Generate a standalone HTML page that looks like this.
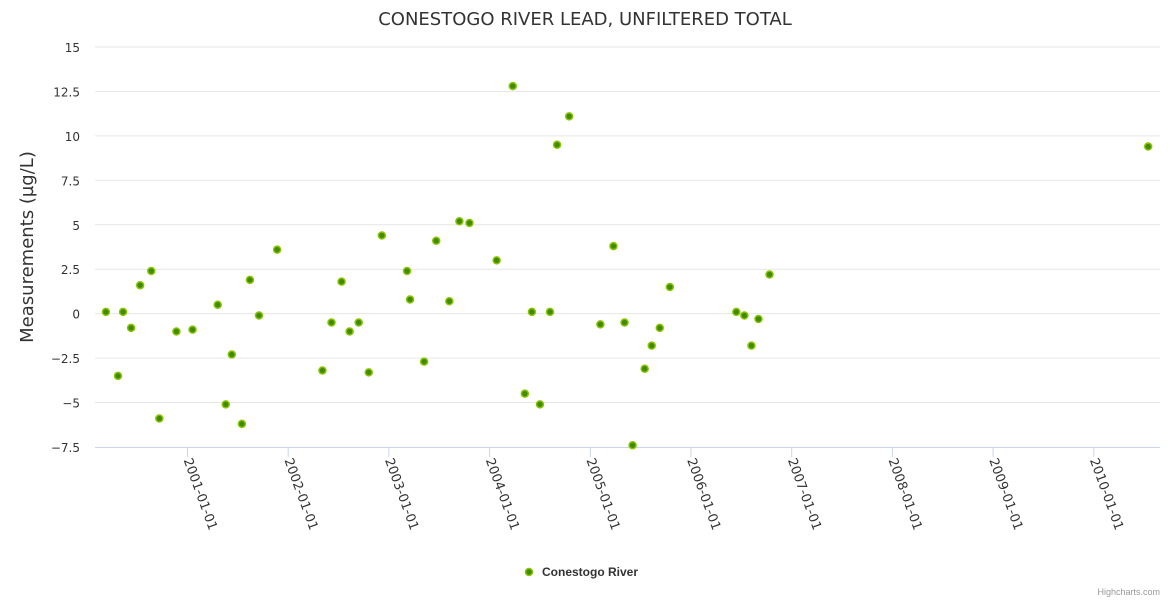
<!DOCTYPE html>
<html><head><meta charset="utf-8"><style>
body{margin:0;background:#fff;font-family:"Liberation Sans","DejaVu Sans",sans-serif}
svg{display:block}
</style></head><body>
<svg id="chart" width="1170" height="600" xmlns="http://www.w3.org/2000/svg">
<text x="585" y="25" text-anchor="middle" font-size="18" fill="#333" font-family="DejaVu Sans, sans-serif">CONESTOGO RIVER LEAD, UNFILTERED TOTAL</text>
<text transform="translate(33,247) rotate(-90)" text-anchor="middle" font-size="18" fill="#333" font-family="DejaVu Sans, sans-serif">Measurements (µg/L)</text>
<g id="grid"></g><g id="xaxis"></g><g id="pts"></g>
<g>
<circle cx="529" cy="572" r="3.5" fill="#3f8c00" stroke="#8bc400" stroke-width="1.5"/>
<text x="542" y="576" font-size="12" font-weight="bold" fill="#333">Conestogo River</text>
</g>
<text x="1160" y="595" text-anchor="end" font-size="9" fill="#999">Highcharts.com</text>
</svg>
<script>
const yTicks=[-7.5,-5,-2.5,0,2.5,5,7.5,10,12.5,15];
const xTickYears=[2001,2002,2003,2004,2005,2006,2007,2008,2009,2010];
const dates=[2000.19,2000.31,2000.36,2000.44,2000.53,2000.64,2000.72,2000.89,2001.05,2001.30,2001.38,2001.44,2001.54,2001.62,2001.71,2001.89,2002.34,2002.43,2002.53,2002.61,2002.70,2002.80,2002.93,2003.18,2003.21,2003.35,2003.47,2003.60,2003.70,2003.80,2004.07,2004.23,2004.35,2004.42,2004.50,2004.60,2004.67,2004.79,2005.10,2005.23,2005.34,2005.42,2005.54,2005.61,2005.69,2005.79,2006.45,2006.53,2006.60,2006.67,2006.78,2010.54];
const values=[0.1,-3.5,0.1,-0.8,1.6,2.4,-5.9,-1.0,-0.9,0.5,-5.1,-2.3,-6.2,1.9,-0.1,3.6,-3.2,-0.5,1.8,-1.0,-0.5,-3.3,4.4,2.4,0.8,-2.7,4.1,0.7,5.2,5.1,3.0,12.8,-4.5,0.1,-5.1,0.1,9.5,11.1,-0.6,3.8,-0.5,-7.4,-3.1,-1.8,-0.8,1.5,0.1,-0.1,-1.8,-0.3,2.2,9.4];
const NS="http://www.w3.org/2000/svg";
const X0=95,X1=1160,Y0=447,Y1=47;
const xs=yr=>187.5+(yr-2001)*100.7;
const ys=v=>Y0-(v-(-7.5))*(Y0-Y1)/22.5;
function mk(t,a,p){const e=document.createElementNS(NS,t);for(const k in a)e.setAttribute(k,a[k]);p.appendChild(e);return e;}
const grid=document.getElementById('grid'),xa=document.getElementById('xaxis'),pts=document.getElementById('pts');
yTicks.forEach(v=>{
  if(v>-7.5){const l=mk('line',{x1:X0,x2:X1,y1:ys(v),y2:ys(v),stroke:'#e6e6e6'},grid);
  
  }
  const t=mk('text',{x:80,y:ys(v)+5,'text-anchor':'end','font-size':12,fill:'#333','font-family':'DejaVu Sans, sans-serif'},grid);
  t.textContent=v===0?'0':(v<0?'−'+Math.abs(v):String(v));
  
  
});
const ax=mk('line',{x1:X0,x2:X1,y1:Y0+0.5,y2:Y0+0.5,stroke:'#ccd6eb'},xa);


xTickYears.forEach(y=>{
  const x=xs(y);
  const tk=mk('line',{x1:x,x2:x,y1:Y0,y2:Y0+10,stroke:'#ccd6eb'},xa);
  
  
  const t=mk('text',{transform:`translate(${x-4},${Y0+13}) rotate(70)`,'font-size':13,fill:'#333','font-family':'DejaVu Sans, sans-serif'},xa);
  t.textContent=y+'-01-01';
  
  
});
dates.forEach((d,i)=>{
  const c=mk('circle',{cx:xs(d),cy:ys(values[i]),r:3.5,fill:'#3f8c00',stroke:'#8bc400','stroke-width':1.5},pts);
  
  
});
</script>
</body></html>
